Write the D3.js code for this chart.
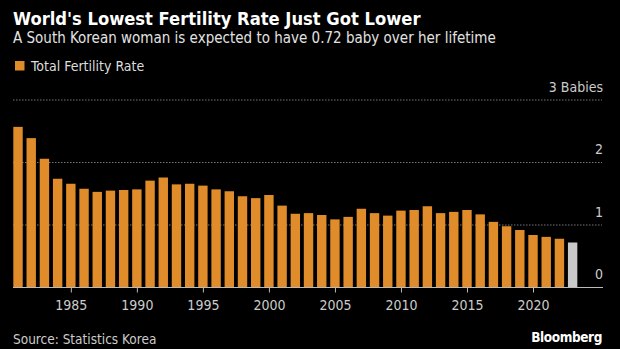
<!DOCTYPE html>
<html>
<head>
<meta charset="utf-8">
<script src="https://cdn.jsdelivr.net/npm/d3@7"></script>
<style>
  html, body { margin: 0; padding: 0; background: #000; }
  text { font-family: "DejaVu Sans Condensed", sans-serif; }
</style>
</head>
<body>
<div id="chart"></div>
<script>
// South Korea total fertility rate, 1981-2023 (2023 is preliminary)
var years = [1981, 1982, 1983, 1984, 1985, 1986, 1987, 1988, 1989, 1990,
  1991, 1992, 1993, 1994, 1995, 1996, 1997, 1998, 1999, 2000,
  2001, 2002, 2003, 2004, 2005, 2006, 2007, 2008, 2009, 2010,
  2011, 2012, 2013, 2014, 2015, 2016, 2017, 2018, 2019, 2020,
  2021, 2022, 2023];
var fertility = [2.57, 2.39, 2.06, 1.74, 1.66, 1.58, 1.53, 1.55, 1.56, 1.57,
  1.71, 1.76, 1.65, 1.66, 1.63, 1.57, 1.54, 1.46, 1.43, 1.48,
  1.31, 1.18, 1.19, 1.16, 1.09, 1.13, 1.26, 1.19, 1.15, 1.23,
  1.24, 1.30, 1.19, 1.21, 1.24, 1.17, 1.05, 0.98, 0.92, 0.84,
  0.81, 0.78, 0.72];
var yTicks = [0, 1, 2, 3];
var xTicks = [1985, 1990, 1995, 2000, 2005, 2010, 2015, 2020];

var W = 620, H = 349;
var svg = d3.select('#chart').append('svg')
  .attr('width', W)
  .attr('height', H);

svg.append('rect').attr('width', W).attr('height', H).attr('fill', '#000');

var plotL = 13, plotR = 603, plotT = 100, plotB = 287.5;

var x = d3.scaleLinear().domain([1980.62, 2025.3]).range([plotL, plotR]);
var y = d3.scaleLinear().domain([0, 3]).range([plotB, plotT]);
var barW = 9.4;
var orange = '#e08c2a';

// titles
svg.append('text').attr('x', 13).attr('y', 25)
  .attr('fill', '#fff').attr('font-size', 18.2).attr('font-weight', 'bold')
  .attr('font-family', '"DejaVu Sans", sans-serif')
  .text("World's Lowest Fertility Rate Just Got Lower");
svg.append('text').attr('x', 13).attr('y', 43)
  .attr('fill', '#e2e2e2').attr('font-size', 15)
  .text('A South Korean woman is expected to have 0.72 baby over her lifetime');

// legend
svg.append('rect').attr('x', 15).attr('y', 61).attr('width', 9.5).attr('height', 9.5)
  .attr('fill', orange);
svg.append('text').attr('x', 31).attr('y', 71)
  .attr('fill', '#ddd').attr('font-size', 14)
  .text('Total Fertility Rate');

// gridlines
svg.selectAll('line.grid').data(yTicks.filter(function (d) { return d > 0; }))
  .enter().append('line')
  .attr('class', 'grid')
  .attr('x1', plotL).attr('x2', plotR - 1)
  .attr('y1', function (d) { return y(d); })
  .attr('y2', function (d) { return y(d); })
  .attr('stroke', '#777').attr('stroke-width', 1)
  .attr('stroke-dasharray', '1.5,1.5');

// y labels sit above their lines on the right
svg.selectAll('text.ylab').data(yTicks)
  .enter().append('text')
  .attr('class', 'ylab')
  .attr('x', plotR)
  .attr('y', function (d) { return y(d) - 8.5; })
  .attr('text-anchor', 'end')
  .attr('fill', '#ccc').attr('font-size', 14)
  .text(function (d) { return d === 3 ? '3 Babies' : d; });

// bars
svg.selectAll('rect.bar').data(years)
  .enter().append('rect')
  .attr('class', 'bar')
  .attr('x', function (d) { return x(d) - barW / 2; })
  .attr('width', barW)
  .attr('y', function (d, i) { return y(fertility[i]); })
  .attr('height', function (d, i) { return y(0) - y(fertility[i]); })
  .attr('fill', function (d) { return d === 2023 ? '#c9c9c9' : orange; });

// x axis
var xAxis = svg.append('g')
  .attr('transform', 'translate(0,' + plotB + ')')
  .call(d3.axisBottom(x).tickValues(xTicks).tickFormat(d3.format('d'))
    .tickSize(5).tickSizeOuter(0).tickPadding(8));
xAxis.select('.domain').attr('stroke', '#bbb').attr('d', 'M' + plotL + ',0H' + plotR);
xAxis.selectAll('.tick line').attr('stroke', '#bbb');
xAxis.selectAll('.tick text').attr('fill', '#ccc').attr('font-size', 14)
  .attr('font-family', '"DejaVu Sans Condensed", sans-serif');

// footer
svg.append('text').attr('x', 13).attr('y', 344)
  .attr('fill', '#ccc').attr('font-size', 13.5)
  .text('Source: Statistics Korea');
svg.append('text').attr('x', 602).attr('y', 342)
  .attr('text-anchor', 'end')
  .attr('fill', '#fff').attr('font-size', 13.5).attr('font-weight', 'bold')
  .attr('font-family', '"Liberation Sans", Arial, sans-serif')
  .attr('letter-spacing', -0.4)
  .text('Bloomberg');
</script>
</body>
</html>
